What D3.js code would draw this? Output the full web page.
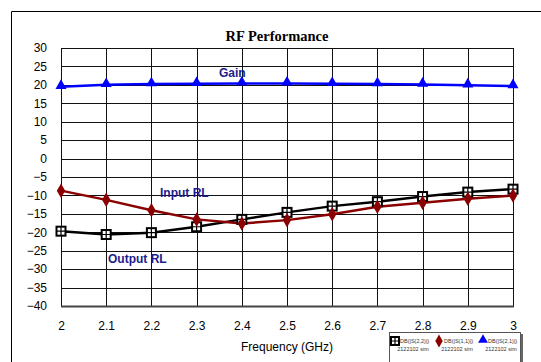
<!DOCTYPE html>
<html>
<head>
<meta charset="utf-8">
<script src="https://cdn.jsdelivr.net/npm/d3@7"></script>
<style>
  html, body { margin: 0; padding: 0; background: #fff; }
  svg { display: block; }
</style>
</head>
<body>
<svg id="chart" width="541" height="362"></svg>
<script>
// Frequency sweep (GHz) and tick labels
const freqs = [2, 2.1, 2.2, 2.3, 2.4, 2.5, 2.6, 2.7, 2.8, 2.9, 3];
const xTickLabels = ["2", "2.1", "2.2", "2.3", "2.4", "2.5", "2.6", "2.7", "2.8", "2.9", "3"];
const yTicks = [30, 25, 20, 15, 10, 5, 0, -5, -10, -15, -20, -25, -30, -35, -40];

// Simulated S-parameters in dB
const gainS21 = [19.5, 20.0, 20.2, 20.3, 20.4, 20.4, 20.3, 20.2, 20.1, 19.9, 19.7];
const inputS11 = [-8.7, -11.2, -14.0, -16.5, -17.6, -16.7, -15.1, -13.1, -12.0, -10.9, -10.0];
const outputS22 = [-19.7, -20.6, -20.1, -18.5, -16.5, -14.6, -12.9, -11.7, -10.3, -9.1, -8.3];

const seriesNames = ["DB(|S(2,2)|)", "DB(|S(1,1)|)", "DB(|S(2,1)|)"];
const seriesSub = "2122102 sim";

const svg = d3.select("#chart");
const plotL = 61, plotR = 513, plotT = 48, plotB = 306;

const x = d3.scaleLinear().domain([2, 3]).range([plotL, plotR]);
const y = d3.scaleLinear().domain([-40, 30]).range([plotB, plotT]);

// Outer frame (left and top edges visible)
svg.append("path").attr("d", `M11.5,362 L11.5,11.5 L541,11.5`)
  .attr("fill", "none").attr("stroke", "#000").attr("stroke-width", 1);

// Title
svg.append("text").attr("x", 277).attr("y", 41)
  .attr("text-anchor", "middle")
  .style("font-family", "'Liberation Serif', 'Times New Roman', serif")
  .style("font-weight", "bold").style("font-size", "14.5px")
  .text("RF Performance");

// Grid
const grid = svg.append("g");
grid.selectAll("line.h").data(yTicks).join("line")
  .attr("x1", plotL).attr("x2", plotR)
  .attr("y1", d => Math.round(y(d)) + 0.5).attr("y2", d => Math.round(y(d)) + 0.5)
  .attr("stroke", "#111").attr("stroke-width", 1);
grid.selectAll("line.v").data(freqs).join("line")
  .attr("y1", plotT).attr("y2", plotB)
  .attr("x1", d => Math.round(x(d)) + 0.5).attr("x2", d => Math.round(x(d)) + 0.5)
  .attr("stroke", "#111").attr("stroke-width", 1);

// Bottom axis line
svg.append("line").attr("x1", plotL).attr("x2", plotR + 1)
  .attr("y1", plotB + 0.5).attr("y2", plotB + 0.5)
  .attr("stroke", "#444").attr("stroke-width", 2);

// Axes (labels only)
const tickFont = "Liberation Sans, Arial, sans-serif";
const yAxis = d3.axisLeft(y).tickValues(yTicks).tickSize(0).tickPadding(14).tickFormat(d3.format("d"));
const gy = svg.append("g").attr("transform", `translate(${plotL},0)`).call(yAxis);
gy.select(".domain").remove();
gy.selectAll("text").style("font-family", tickFont).style("font-size", "12px").attr("fill", "#000");

const xAxis = d3.axisBottom(x).tickValues(freqs).tickSize(0).tickPadding(15)
  .tickFormat((d, i) => xTickLabels[i]);
const gx = svg.append("g").attr("transform", `translate(0,${plotB})`).call(xAxis);
gx.select(".domain").remove();
gx.selectAll("text").style("font-family", tickFont).style("font-size", "12px").attr("fill", "#000");

svg.append("text").attr("x", 287).attr("y", 351).attr("text-anchor", "middle")
  .style("font-family", tickFont).style("font-size", "12px").text("Frequency (GHz)");

// Series
const line = d3.line().x((d, i) => x(freqs[i])).y(d => y(d));
const series = [
  { data: outputS22, color: "#000000", marker: "square" },
  { data: inputS11, color: "#8b0000", marker: "diamond" },
  { data: gainS21, color: "#0000ff", marker: "triangle" }
];

function drawMarker(g, type, color, cx, cy, s) {
  if (type === "square") {
    g.append("rect").attr("x", cx - s / 2).attr("y", cy - s / 2).attr("width", s).attr("height", s)
      .attr("fill", "#fff").attr("stroke", color).attr("stroke-width", 2);
    g.append("path").attr("d", `M${cx - s / 2},${cy} H${cx + s / 2} M${cx},${cy - s / 2} V${cy + s / 2}`)
      .attr("stroke", color).attr("stroke-width", 1.2);
  } else if (type === "diamond") {
    g.append("path").attr("d", d3.symbol(d3.symbolDiamond, s * s * 0.75)())
      .attr("transform", `translate(${cx},${cy})`).attr("fill", color);
  } else {
    g.append("path").attr("d", d3.symbol(d3.symbolTriangle, s * s * 0.65)())
      .attr("transform", `translate(${cx},${cy - 1})`).attr("fill", color);
  }
}

series.forEach(s => {
  svg.append("path").datum(s.data).attr("d", line)
    .attr("fill", "none").attr("stroke", s.color).attr("stroke-width", 2.5);
});
series.forEach(s => {
  const g = svg.append("g");
  s.data.forEach((v, i) => drawMarker(g, s.marker, s.color, x(freqs[i]), y(v), 9));
});

// Trace annotations
const annColor = "#1c1c8c";
const annotations = [
  { text: "Gain", x: 219, y: 77 },
  { text: "Input RL", x: 160, y: 197 },
  { text: "Output RL", x: 108, y: 263 }
];
svg.selectAll("text.ann").data(annotations).join("text")
  .attr("x", d => d.x).attr("y", d => d.y)
  .style("font-family", tickFont).style("font-weight", "bold").style("font-size", "12px")
  .attr("fill", annColor).text(d => d.text);

// Legend
const lg = svg.append("g");
lg.append("rect").attr("x", 391).attr("y", 334).attr("width", 132).attr("height", 40).attr("fill", "#666");
lg.append("rect").attr("x", 389.5).attr("y", 332.5).attr("width", 131).attr("height", 40)
  .attr("fill", "#fff").attr("stroke", "#555").attr("stroke-width", 1);
series.forEach((s, i) => {
  const ox = 391 + i * 44;
  drawMarker(lg, s.marker, s.color, ox + 4, 341, 8);
  lg.append("text").attr("x", ox + 9).attr("y", 343).text(seriesNames[i])
    .style("font-family", tickFont).style("font-size", "5.5px").attr("fill", "#333");
  lg.append("text").attr("x", ox + 22).attr("y", 351).attr("text-anchor", "middle").text(seriesSub)
    .style("font-family", tickFont).style("font-size", "5.5px").attr("fill", "#333");
});
</script>
</body>
</html>
